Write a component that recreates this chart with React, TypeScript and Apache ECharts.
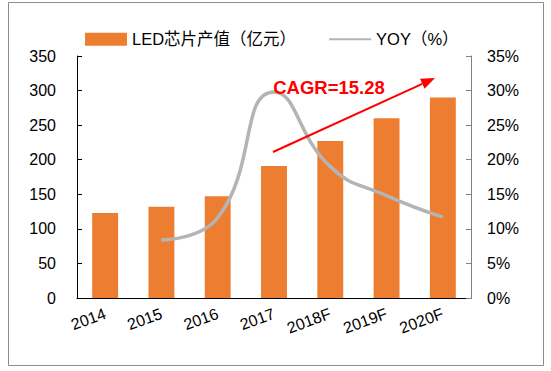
import React, { useEffect, useRef } from "react";
import * as echarts from "echarts";

const categories = ["2014", "2015", "2016", "2017", "2018F", "2019F", "2020F"];
const ledValues = [123, 132, 147, 191, 227, 260, 290];
const yoyValues: (number | null)[] = [null, 8.4, 11.6, 29.8, 19.0, 14.8, 11.7];
const leftTicks = [0, 50, 100, 150, 200, 250, 300, 350];
const rightTicks = [0, 5, 10, 15, 20, 25, 30, 35];
const barName = "LED芯片产值（亿元）";
const lineName = "YOY（%）";
const cagrText = "CAGR=15.28";

const FONT = "'Liberation Sans', Arial, 'Noto Sans CJK SC', sans-serif";

export default function App() {
  const ref = useRef<HTMLDivElement>(null);
  useEffect(() => {
    if (!ref.current) return;
    const chart = echarts.init(ref.current, undefined, { renderer: "svg" });
    const tipX = 435, tipY = 78, sx = 273, sy = 152;
    const dx = tipX - sx, dy = tipY - sy;
    const len = Math.hypot(dx, dy);
    const ux = dx / len, uy = dy / len;
    const hl = 14, hw = 5.5;
    const bx = tipX - ux * hl, by = tipY - uy * hl;
    const px = -uy, py = ux;
    chart.setOption({
      animation: false,
      textStyle: { fontFamily: FONT },
      grid: { left: 77, right: 80, top: 56, bottom: 73 },
      legend: {
        top: 26,
        left: 80,
        itemWidth: 42,
        itemHeight: 13,
        itemGap: 32,
        textStyle: { fontSize: 16.5, color: "#000", fontFamily: FONT },
        data: [
          { name: barName, icon: "rect" },
          { name: lineName, itemStyle: { opacity: 0 } },
        ],
      },
      xAxis: {
        type: "category",
        data: categories,
        axisLine: { lineStyle: { color: "#000", width: 1 } },
        axisTick: { inside: true, length: 5, lineStyle: { color: "#000" } },
        axisLabel: { interval: 0, rotate: 20, fontSize: 16, color: "#000", margin: 15, fontFamily: FONT },
      },
      yAxis: [
        {
          type: "value",
          min: 0,
          max: 350,
          interval: 50,
          splitLine: { show: false },
          axisLine: { show: true, lineStyle: { color: "#000" } },
          axisTick: { show: true, inside: true, length: 5, lineStyle: { color: "#000" } },
          axisLabel: {
            fontSize: 16,
            color: "#000",
            margin: 21,
            fontFamily: FONT,
            formatter: (v: number) => (leftTicks.includes(v) ? String(v) : ""),
          },
        },
        {
          type: "value",
          min: 0,
          max: 35,
          interval: 5,
          splitLine: { show: false },
          axisLine: { show: true, lineStyle: { color: "#808080" } },
          axisTick: { show: true, inside: true, length: 5, lineStyle: { color: "#808080" } },
          axisLabel: {
            fontSize: 16,
            color: "#000",
            margin: 16,
            fontFamily: FONT,
            formatter: (v: number) => (rightTicks.includes(v) ? v + "%" : ""),
          },
        },
      ],
      series: [
        {
          name: barName,
          type: "bar",
          data: ledValues,
          barWidth: "46%",
          itemStyle: { color: "#ED7D31" },
        },
        {
          name: lineName,
          type: "line",
          yAxisIndex: 1,
          data: yoyValues,
          smooth: 0.5,
          symbol: "none",
          lineStyle: { color: "#B4B4B4", width: 3.5 },
          itemStyle: { color: "#B4B4B4" },
        },
      ],
      graphic: [
        {
          type: "rect",
          shape: { x: 8.5, y: 2.5, width: 535, height: 363 },
          style: { fill: "none", stroke: "#8c8c8c", lineWidth: 1 },
          silent: true,
        },
        {
          type: "line",
          shape: { x1: sx, y1: sy, x2: bx, y2: by },
          style: { stroke: "#FF0000", lineWidth: 2 },
          z: 10,
        },
        {
          type: "polygon",
          shape: {
            points: [
              [tipX, tipY],
              [bx + px * hw, by + py * hw],
              [bx - px * hw, by - py * hw],
            ],
          },
          style: { fill: "#FF0000" },
          z: 10,
        },
        {
          type: "text",
          x: 329,
          y: 87,
          style: {
            text: cagrText,
            fill: "#FF0000",
            font: "bold 18.5px 'Liberation Sans', Arial, sans-serif",
            textAlign: "center",
            textVerticalAlign: "middle",
          },
          z: 10,
        },
      ],
    });
    return () => chart.dispose();
  }, []);
  return (
    <div
      ref={ref}
      style={{ position: "fixed", left: 0, top: 0, width: 551, height: 371, background: "#fff" }}
    />
  );
}
